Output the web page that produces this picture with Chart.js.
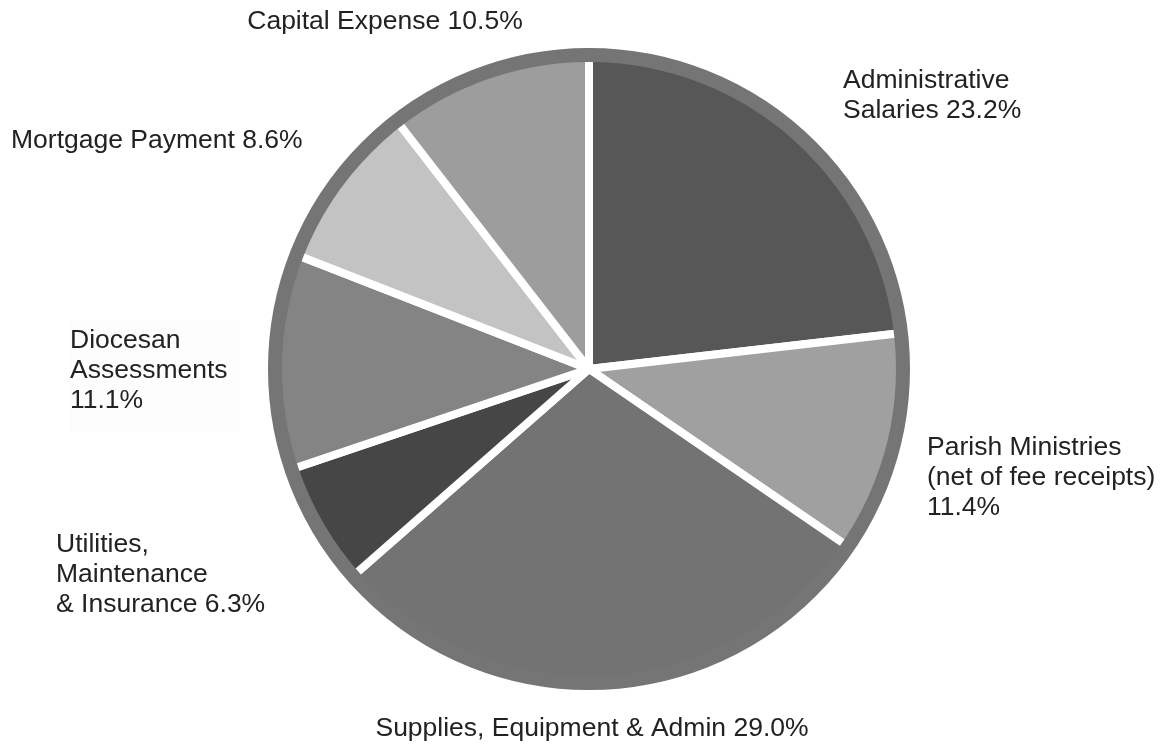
<!DOCTYPE html>
<html>
<head>
<meta charset="utf-8">
<script src="https://cdn.jsdelivr.net/npm/chart.js@4.4.1/dist/chart.umd.min.js"></script>
<style>
  html, body { margin: 0; padding: 0; background: #ffffff; }
  #wrap { position: relative; width: 1161px; height: 744px; }
</style>
</head>
<body>
<div id="wrap"><canvas id="c" width="1161" height="744"></canvas></div>
<script>
// ---- data ----
const categories = [
  "Administrative Salaries",
  "Parish Ministries (net of fee receipts)",
  "Supplies, Equipment & Admin",
  "Utilities, Maintenance & Insurance",
  "Diocesan Assessments",
  "Mortgage Payment",
  "Capital Expense"
];
const values = [23.2, 11.4, 29.0, 6.3, 11.1, 8.6, 10.5];
const labelLines = [
  ["Administrative", "Salaries 23.2%"],
  ["Parish Ministries", "(net of fee receipts)", "11.4%"],
  ["Supplies, Equipment & Admin 29.0%"],
  ["Utilities,", "Maintenance", "& Insurance 6.3%"],
  ["Diocesan", "Assessments", "11.1%"],
  ["Mortgage Payment 8.6%"],
  ["Capital Expense 10.5%"]
];
const sliceColors = ["#575757", "#a0a0a0", "#737373", "#464646", "#848484", "#c3c3c3", "#9d9d9d"];

// label placement (text anchor, alignment, first baseline)
const labelPlacement = [
  { x: 843, y: 88,  align: "left" },
  { x: 927, y: 455, align: "left" },
  { x: 592, y: 736, align: "center" },
  { x: 56,  y: 552, align: "left" },
  { x: 70,  y: 348, align: "left" },
  { x: 11,  y: 148, align: "left" },
  { x: 385, y: 29,  align: "center" }
];

const ringPlugin = {
  id: "ring",
  beforeDatasetsDraw(chart) {
    const ctx = chart.ctx;
    // faint label box behind Diocesan label
    ctx.save();
    ctx.fillStyle = "#fdfdfd";
    ctx.fillRect(70, 320, 170, 112);
    ctx.restore();
  },
  afterDatasetsDraw(chart) {
    const meta = chart.getDatasetMeta(0);
    const arc = meta.data[0];
    const ca = chart.chartArea;
    const outer = Math.min(ca.right - ca.left, ca.bottom - ca.top) / 2;
    const ctx = chart.ctx;
    ctx.save();
    ctx.beginPath();
    ctx.arc(arc.x, arc.y, outer - 7, 0, Math.PI * 2);
    ctx.lineWidth = 14;
    ctx.strokeStyle = "#757575";
    ctx.stroke();
    ctx.restore();
  },
  afterDraw(chart) {
    const ctx = chart.ctx;
    ctx.save();
    ctx.font = "26.5px 'Liberation Sans', Arial, sans-serif";
    ctx.fillStyle = "#222222";
    ctx.textBaseline = "alphabetic";
    const lh = 30;
    labelLines.forEach((lines, i) => {
      const p = labelPlacement[i];
      ctx.textAlign = p.align;
      lines.forEach((t, j) => ctx.fillText(t, p.x, p.y + j * lh));
    });
    ctx.restore();
  }
};

new Chart(document.getElementById("c"), {
  type: "pie",
  data: {
    labels: categories,
    datasets: [{
      data: values,
      backgroundColor: sliceColors,
      borderColor: "#ffffff",
      borderWidth: 8,
      hoverBorderWidth: 8,
      hoverOffset: 0
    }]
  },
  options: {
    responsive: false,
    animation: false,
    events: [],
    layout: { padding: { top: 48, bottom: 54, left: 200, right: 183 } },
    plugins: {
      legend: { display: false },
      tooltip: { enabled: false }
    }
  },
  plugins: [ringPlugin]
});
</script>
</body>
</html>
